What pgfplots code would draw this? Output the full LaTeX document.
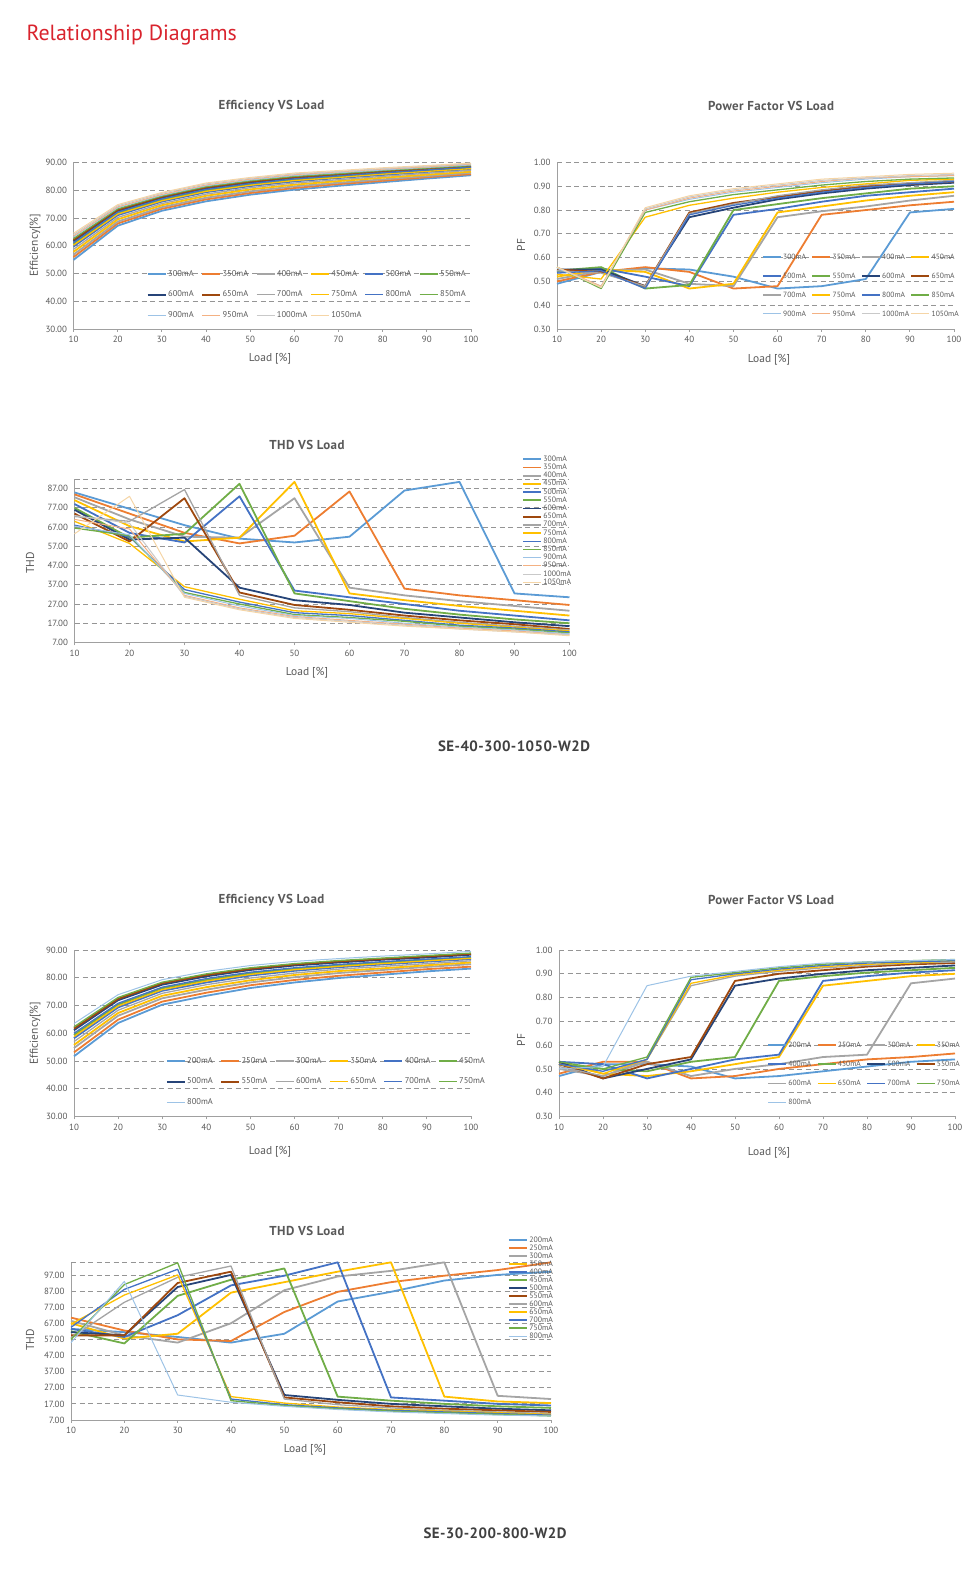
\documentclass[border=0pt]{standalone}
\usepackage{fontspec}
\setmainfont{PT Sans}
\newfontfamily\titlefont[LetterSpace=3]{PT Sans}
\usepackage{pgfplots}
\pgfplotsset{compat=1.18}

\definecolor{c1}{HTML}{5B9BD5}
\definecolor{c2}{HTML}{ED7D31}
\definecolor{c3}{HTML}{A5A5A5}
\definecolor{c4}{HTML}{FFC000}
\definecolor{c5}{HTML}{4472C4}
\definecolor{c6}{HTML}{70AD47}
\definecolor{c7}{HTML}{264478}
\definecolor{c8}{HTML}{9E480E}
\definecolor{c13}{HTML}{9DC3E6}
\definecolor{c14}{HTML}{F4B183}
\definecolor{c15}{HTML}{C9C9C9}
\definecolor{c16}{HTML}{F5D5A6}
\definecolor{axgray}{HTML}{A0A0A0}
\definecolor{gridgray}{HTML}{959595}
\definecolor{txtgray}{HTML}{595959}
\definecolor{titlered}{HTML}{D9232D}

\pgfplotsset{
  legend image code/.code={\draw[#1] (0bp,0bp) -- (18bp,0bp);},
  s1/.style={c1, line width=1.8bp},
  s2/.style={c2, line width=1.8bp},
  s3/.style={c3, line width=1.8bp},
  s4/.style={c4, line width=1.8bp},
  s5/.style={c5, line width=1.8bp},
  s6/.style={c6, line width=1.8bp},
  s7/.style={c7, line width=1.8bp},
  s8/.style={c8, line width=1.8bp},
  s9/.style={c3, line width=1.3bp},
  s10/.style={c4, line width=1.3bp},
  s11/.style={c5, line width=1.3bp},
  s12/.style={c6, line width=1.3bp},
  s13/.style={c13, line width=1bp},
  s14/.style={c14, line width=1bp},
  s15/.style={c15, line width=1bp},
  s16/.style={c16, line width=1bp},
  base/.style={
    scale only axis,
    axis x line=bottom, axis y line=left,
    axis line style={-, draw=axgray, line width=0.9bp},
    xmin=10, xmax=100,
    xtick={10,20,30,40,50,60,70,80,90,100},
    xticklabels={10,20,30,40,50,60,70,80,90,100},
    tick align=outside, major tick length=3bp,
    xtick style={draw=axgray, line width=0.8bp},
    ytick style={draw=none},
    ymajorgrids,
    major grid style={draw=gridgray, line width=0.8bp, dash pattern=on 5bp off 3.5bp},
    tick label style={font=\fontsize{9}{10}\selectfont, text=txtgray},
    xticklabel style={yshift=-1bp},
    clip=false, no markers,
    every axis plot/.append style={line join=round},
    legend cell align=left,
  },
  efflegend/.style={
    legend columns=6,
    legend style={draw=none, fill=none, inner sep=0pt, anchor=north west,
      column sep=0pt, row sep=12bp,
      /tikz/every even column/.append style={column sep=1.6bp},
      nodes={font=\fontsize{8.5}{9}\selectfont, text=txtgray, text width=30bp, align=left,
        inner xsep=1.5bp, inner ysep=0.5bp, text height=6bp, text depth=1.5bp}},
  },
  pflegend/.style={
    legend columns=4,
    legend style={draw=none, fill=none, inner sep=0pt, anchor=north west,
      column sep=0pt, row sep=10.5bp,
      /tikz/every even column/.append style={column sep=0.7bp},
      nodes={font=\fontsize{7.6}{8}\selectfont, text=txtgray, text width=26bp, align=left,
        inner xsep=1.5bp, inner ysep=0.5bp, text height=6bp, text depth=1.5bp}},
  },
  thdlegend/.style={
    legend columns=1,
    legend style={draw=none, fill=none, inner sep=0pt, anchor=north west,
      column sep=0pt, row sep=0bp,
      nodes={font=\fontsize{7.8}{8}\selectfont, text=txtgray,
        inner xsep=1.5bp, inner ysep=#1, text height=5.5bp, text depth=1.5bp}},
  },
  effaxis/.style={base, ymin=30, ymax=90,
    ytick={30,40,50,60,70,80,90},
    yticklabels={30.00,40.00,50.00,60.00,70.00,80.00,90.00}},
  pfaxis/.style={base, ymin=0.3, ymax=1.0,
    ytick={0.3,0.4,0.5,0.6,0.7,0.8,0.9,1.0},
    yticklabels={0.30,0.40,0.50,0.60,0.70,0.80,0.90,1.00}},
}
\newcommand{\ser}[3]{\addplot[#1] coordinates {#3}; \addlegendentry{#2}}
\newcommand{\ttl}{\titlefont\bfseries\fontsize{13}{14}\selectfont}
\newcommand{\lbl}{\fontsize{11.5}{12}\selectfont}
\newcommand{\model}{\titlefont\bfseries\fontsize{15}{16}\selectfont}

\begin{document}
\begin{tikzpicture}
\path[use as bounding box] (0bp,0bp) rectangle (968bp,1572bp);

\node[anchor=west, text=titlered, font=\fontsize{22}{24}\selectfont] at (23bp,1537bp) {Relationship Diagrams};

% ---------------- SET 1 ----------------
\node[text=txtgray, font=\ttl] at (271.5bp,1466bp) {Efficiency VS Load};
\node[text=txtgray, font=\ttl] at (771bp,1466bp) {Power Factor VS Load};
\node[text=txtgray, font=\ttl] at (307bp,1127bp) {THD VS Load};
\node[text=black!75, font=\model] at (514bp,826bp) {SE-40-300-1050-W2D};

\node[rotate=90, text=txtgray, font=\lbl] at (35bp,1327bp) {Efficiency[\%]};
\node[text=txtgray, font=\lbl] at (270bp,1213bp) {Load [\%]};
\node[rotate=90, text=txtgray, font=\lbl] at (521bp,1327bp) {PF};
\node[text=txtgray, font=\lbl] at (769bp,1212bp) {Load [\%]};
\node[rotate=90, text=txtgray, font=\lbl] at (30bp,1009bp) {THD};
\node[text=txtgray, font=\lbl] at (307bp,899bp) {Load [\%]};

\begin{axis}[effaxis, efflegend, at={(73.5bp,1243bp)}, anchor=south west,
  width=397.5bp, height=166.5bp, legend style={at={(0.184,0.356)}}]
\ser{s1}{300mA}{(10,54.9)(20,67.2)(30,72.6)(40,76.0)(50,78.4)(60,80.2)(70,81.6)(80,82.9)(90,84.2)(100,85.4)}
\ser{s2}{350mA}{(10,55.9)(20,68.0)(30,73.3)(40,76.7)(50,79.0)(60,80.8)(70,82.2)(80,83.4)(90,84.7)(100,85.8)}
\ser{s3}{400mA}{(10,56.8)(20,68.7)(30,73.9)(40,77.3)(50,79.6)(60,81.4)(70,82.7)(80,83.9)(90,85.1)(100,86.3)}
\ser{s4}{450mA}{(10,57.8)(20,69.5)(30,74.6)(40,78.0)(50,80.3)(60,82.0)(70,83.3)(80,84.5)(90,85.6)(100,86.7)}
\ser{s5}{500mA}{(10,59.7)(20,71.0)(30,75.9)(40,79.3)(50,81.5)(60,83.2)(70,84.4)(80,85.5)(90,86.6)(100,87.6)}
\ser{s6}{550mA}{(10,60.7)(20,71.8)(30,76.6)(40,80.0)(50,82.1)(60,83.8)(70,84.9)(80,86.0)(90,87.0)(100,88.0)}
\ser{s7}{600mA}{(10,61.6)(20,72.5)(30,77.2)(40,80.6)(50,82.7)(60,84.4)(70,85.5)(80,86.5)(90,87.5)(100,88.5)}
\ser{s8}{650mA}{(10,62.1)(20,72.9)(30,77.6)(40,81.0)(50,83.1)(60,84.7)(70,85.7)(80,86.8)(90,87.7)(100,88.7)}
\ser{s9}{700mA}{(10,58.7)(20,70.2)(30,75.2)(40,78.6)(50,80.9)(60,82.6)(70,83.8)(80,85.0)(90,86.1)(100,87.2)}
\ser{s10}{750mA}{(10,60.2)(20,71.4)(30,76.2)(40,79.6)(50,81.8)(60,83.5)(70,84.6)(80,85.8)(90,86.8)(100,87.8)}
\ser{s11}{800mA}{(10,61.1)(20,72.1)(30,76.9)(40,80.3)(50,82.4)(60,84.1)(70,85.2)(80,86.3)(90,87.3)(100,88.3)}
\ser{s12}{850mA}{(10,62.6)(20,73.3)(30,77.9)(40,81.3)(50,83.4)(60,85.0)(70,86.0)(80,87.1)(90,88.0)(100,88.9)}
\ser{s13}{900mA}{(10,63.1)(20,73.7)(30,78.2)(40,81.6)(50,83.7)(60,85.3)(70,86.3)(80,87.3)(90,88.2)(100,89.1)}
\ser{s14}{950mA}{(10,63.5)(20,74.0)(30,78.5)(40,81.9)(50,84.0)(60,85.6)(70,86.6)(80,87.6)(90,88.4)(100,89.4)}
\ser{s15}{1000mA}{(10,64.0)(20,74.4)(30,78.9)(40,82.3)(50,84.3)(60,85.9)(70,86.8)(80,87.8)(90,88.7)(100,89.6)}
\ser{s16}{1050mA}{(10,64.5)(20,74.8)(30,79.2)(40,82.6)(50,84.6)(60,86.2)(70,87.1)(80,88.1)(90,88.9)(100,89.8)}
\end{axis}

\begin{axis}[pfaxis, pflegend, at={(557bp,1243bp)}, anchor=south west,
  width=397bp, height=166.5bp, legend style={at={(0.5156,0.4598)}}]
\ser{s1}{300mA}{(10,0.49)(20,0.54)(30,0.555)(40,0.55)(50,0.52)(60,0.47)(70,0.48)(80,0.51)(90,0.79)(100,0.805)}
\ser{s2}{350mA}{(10,0.50)(20,0.54)(30,0.56)(40,0.54)(50,0.47)(60,0.48)(70,0.78)(80,0.80)(90,0.82)(100,0.835)}
\ser{s3}{400mA}{(10,0.51)(20,0.545)(30,0.55)(40,0.49)(50,0.48)(60,0.77)(70,0.795)(80,0.815)(90,0.84)(100,0.86)}
\ser{s4}{450mA}{(10,0.52)(20,0.55)(30,0.54)(40,0.47)(50,0.49)(60,0.79)(70,0.815)(80,0.84)(90,0.86)(100,0.875)}
\ser{s5}{500mA}{(10,0.54)(20,0.555)(30,0.52)(40,0.48)(50,0.78)(60,0.805)(70,0.835)(80,0.86)(90,0.875)(100,0.89)}
\ser{s6}{550mA}{(10,0.545)(20,0.56)(30,0.47)(40,0.485)(50,0.80)(60,0.825)(70,0.85)(80,0.87)(90,0.89)(100,0.90)}
\ser{s7}{600mA}{(10,0.55)(20,0.55)(30,0.48)(40,0.77)(50,0.81)(60,0.845)(70,0.87)(80,0.89)(90,0.905)(100,0.915)}
\ser{s8}{650mA}{(10,0.55)(20,0.54)(30,0.48)(40,0.79)(50,0.83)(60,0.855)(70,0.88)(80,0.90)(90,0.91)(100,0.92)}
\ser{s9}{700mA}{(10,0.545)(20,0.535)(30,0.48)(40,0.785)(50,0.825)(60,0.86)(70,0.885)(80,0.905)(90,0.915)(100,0.925)}
\ser{s10}{750mA}{(10,0.53)(20,0.51)(30,0.77)(40,0.82)(50,0.85)(60,0.875)(70,0.895)(80,0.91)(90,0.925)(100,0.93)}
\ser{s11}{800mA}{(10,0.535)(20,0.545)(30,0.47)(40,0.78)(50,0.82)(60,0.85)(70,0.875)(80,0.895)(90,0.91)(100,0.92)}
\ser{s12}{850mA}{(10,0.56)(20,0.47)(30,0.79)(40,0.835)(50,0.865)(60,0.885)(70,0.905)(80,0.92)(90,0.93)(100,0.935)}
\ser{s13}{900mA}{(10,0.555)(20,0.48)(30,0.80)(40,0.845)(50,0.875)(60,0.895)(70,0.915)(80,0.93)(90,0.94)(100,0.945)}
\ser{s14}{950mA}{(10,0.56)(20,0.48)(30,0.80)(40,0.85)(50,0.88)(60,0.90)(70,0.92)(80,0.935)(90,0.94)(100,0.945)}
\ser{s15}{1000mA}{(10,0.56)(20,0.475)(30,0.805)(40,0.855)(50,0.885)(60,0.905)(70,0.925)(80,0.935)(90,0.945)(100,0.95)}
\ser{s16}{1050mA}{(10,0.56)(20,0.475)(30,0.81)(40,0.86)(50,0.89)(60,0.91)(70,0.93)(80,0.94)(90,0.95)(100,0.955)}
\end{axis}

\begin{axis}[base, thdlegend=0.6bp, at={(74.5bp,929.5bp)}, anchor=south west,
  width=495bp, height=163.5bp, ymin=7, ymax=92,
  ytick={7,17,27,37,47,57,67,77,87},
  yticklabels={7.00,17.00,27.00,37.00,47.00,57.00,67.00,77.00,87.00},
  extra y ticks={92}, extra y tick labels={}, extra y tick style={grid=major},
  legend style={at={(0.904,1.147)}}]
\ser{s1}{300mA}{(10,85)(20,76.5)(30,68)(40,61)(50,59)(60,62)(70,86)(80,90.5)(90,32.5)(100,30.5)}
\ser{s2}{350mA}{(10,84)(20,74)(30,64)(40,58.5)(50,62.5)(60,85.5)(70,35)(80,31.5)(90,29)(100,26.5)}
\ser{s3}{400mA}{(10,82.5)(20,71)(30,62)(40,61.5)(50,82)(60,35.5)(70,31.5)(80,28.5)(90,26)(100,23.5)}
\ser{s4}{450mA}{(10,81)(20,67.5)(30,59.5)(40,61.5)(50,90.5)(60,32.5)(70,29)(80,26)(90,23.5)(100,21)}
\ser{s5}{500mA}{(10,79)(20,64)(30,59)(40,83)(50,34)(60,30.5)(70,27)(80,23.5)(90,21)(100,18.5)}
\ser{s6}{550mA}{(10,77)(20,61.5)(30,63.5)(40,89.5)(50,32.5)(60,28.5)(70,24.5)(80,21.5)(90,19)(100,17)}
\ser{s7}{600mA}{(10,76)(20,60.5)(30,61.5)(40,35.5)(50,29)(60,26.5)(70,22.5)(80,20)(90,17.5)(100,15.5)}
\ser{s8}{650mA}{(10,74)(20,59.5)(30,82)(40,33)(50,26.5)(60,24)(70,21)(80,18.5)(90,16.5)(100,14)}
\ser{s9}{700mA}{(10,72.5)(20,70)(30,86.5)(40,31.5)(50,25)(60,23)(70,20)(80,17.5)(90,15.5)(100,13.5)}
\ser{s10}{750mA}{(10,70)(20,58.5)(30,36)(40,29.5)(50,23.5)(60,22)(70,19.5)(80,17)(90,15)(100,13)}
\ser{s11}{800mA}{(10,68)(20,62)(30,34.5)(40,28)(50,22.5)(60,21)(70,18.5)(80,16)(90,14.5)(100,12.5)}
\ser{s12}{850mA}{(10,66.5)(20,62.5)(30,33)(40,27)(50,21.5)(60,20)(70,18)(80,15.5)(90,14)(100,12)}
\ser{s13}{900mA}{(10,67.5)(20,63)(30,32.5)(40,26)(50,21)(60,19.5)(70,17)(80,15)(90,13.5)(100,11.5)}
\ser{s14}{950mA}{(10,71)(20,66)(30,31.5)(40,25)(50,20.5)(60,18.5)(70,16.5)(80,14.5)(90,13)(100,11)}
\ser{s15}{1000mA}{(10,73)(20,69)(30,31)(40,24.5)(50,20)(60,18)(70,16)(80,14)(90,12.5)(100,11)}
\ser{s16}{1050mA}{(10,63.5)(20,83)(30,30.5)(40,24)(50,19.5)(60,17.5)(70,15.5)(80,14)(90,12.5)(100,10.5)}
\end{axis}

% ---------------- SET 2 ----------------
\node[text=txtgray, font=\ttl] at (271.5bp,672bp) {Efficiency VS Load};
\node[text=txtgray, font=\ttl] at (771bp,672bp) {Power Factor VS Load};
\node[text=txtgray, font=\ttl] at (307bp,341bp) {THD VS Load};
\node[text=black!75, font=\model] at (495bp,39bp) {SE-30-200-800-W2D};

\node[rotate=90, text=txtgray, font=\lbl] at (35bp,539bp) {Efficiency[\%]};
\node[text=txtgray, font=\lbl] at (270bp,420bp) {Load [\%]};
\node[rotate=90, text=txtgray, font=\lbl] at (521bp,532bp) {PF};
\node[text=txtgray, font=\lbl] at (769bp,419bp) {Load [\%]};
\node[rotate=90, text=txtgray, font=\lbl] at (30bp,232bp) {THD};
\node[text=txtgray, font=\lbl] at (305bp,122bp) {Load [\%]};

\begin{axis}[effaxis, efflegend, at={(74bp,455.5bp)}, anchor=south west,
  width=397bp, height=166.5bp, legend style={at={(0.231,0.359)}}]
\ser{s1}{200mA}{(10,51.7)(20,63.7)(30,70.3)(40,73.5)(50,76.3)(60,78.3)(70,79.9)(80,81.1)(90,82.3)(100,83.3)}
\ser{s2}{250mA}{(10,53.1)(20,64.9)(30,71.4)(40,74.6)(50,77.3)(60,79.2)(70,80.7)(80,81.9)(90,83.1)(100,84.0)}
\ser{s3}{300mA}{(10,54.7)(20,66.3)(30,72.6)(40,75.7)(50,78.3)(60,80.2)(70,81.7)(80,82.8)(90,83.9)(100,84.9)}
\ser{s4}{350mA}{(10,55.8)(20,67.3)(30,73.5)(40,76.6)(50,79.1)(60,81.0)(70,82.4)(80,83.4)(90,84.5)(100,85.5)}
\ser{s5}{400mA}{(10,58.2)(20,69.3)(30,75.3)(40,78.3)(50,80.8)(60,82.5)(70,83.8)(80,84.8)(90,85.8)(100,86.7)}
\ser{s6}{450mA}{(10,59.4)(20,70.3)(30,76.2)(40,79.2)(50,81.6)(60,83.2)(70,84.5)(80,85.5)(90,86.4)(100,87.3)}
\ser{s7}{500mA}{(10,61.1)(20,71.9)(30,77.5)(40,80.5)(50,82.8)(60,84.4)(70,85.5)(80,86.5)(90,87.3)(100,88.3)}
\ser{s8}{550mA}{(10,61.7)(20,72.4)(30,78.0)(40,81.0)(50,83.2)(60,84.8)(70,85.9)(80,86.8)(90,87.7)(100,88.6)}
\ser{s9}{600mA}{(10,57.0)(20,68.3)(30,74.4)(40,77.5)(50,79.9)(60,81.7)(70,83.1)(80,84.1)(90,85.1)(100,86.1)}
\ser{s10}{650mA}{(10,58.8)(20,69.8)(30,75.7)(40,78.8)(50,81.2)(60,82.9)(70,84.1)(80,85.1)(90,86.1)(100,87.0)}
\ser{s11}{700mA}{(10,60.0)(20,70.8)(30,76.6)(40,79.7)(50,82.0)(60,83.6)(70,84.8)(80,85.8)(90,86.7)(100,87.6)}
\ser{s12}{750mA}{(10,62.3)(20,72.9)(30,78.4)(40,81.4)(50,83.6)(60,85.1)(70,86.2)(80,87.1)(90,88.0)(100,88.9)}
\ser{s13}{800mA}{(10,63.5)(20,73.9)(30,79.3)(40,82.3)(50,84.4)(60,85.9)(70,86.9)(80,87.8)(90,88.6)(100,89.5)}
\end{axis}

\begin{axis}[pfaxis, pflegend, at={(559bp,455.5bp)}, anchor=south west,
  width=396bp, height=166.5bp, legend style={at={(0.525,0.455)}}]
\ser{s1}{200mA}{(10,0.47)(20,0.52)(30,0.52)(40,0.51)(50,0.46)(60,0.47)(70,0.49)(80,0.51)(90,0.53)(100,0.54)}
\ser{s2}{250mA}{(10,0.48)(20,0.53)(30,0.53)(40,0.46)(50,0.47)(60,0.50)(70,0.52)(80,0.54)(90,0.55)(100,0.565)}
\ser{s3}{300mA}{(10,0.50)(20,0.47)(30,0.53)(40,0.47)(50,0.50)(60,0.52)(70,0.55)(80,0.56)(90,0.86)(100,0.88)}
\ser{s4}{350mA}{(10,0.53)(20,0.48)(30,0.47)(40,0.49)(50,0.52)(60,0.55)(70,0.85)(80,0.87)(90,0.89)(100,0.90)}
\ser{s5}{400mA}{(10,0.53)(20,0.52)(30,0.46)(40,0.50)(50,0.54)(60,0.56)(70,0.87)(80,0.89)(90,0.905)(100,0.915)}
\ser{s6}{450mA}{(10,0.52)(20,0.50)(30,0.49)(40,0.53)(50,0.55)(60,0.87)(70,0.89)(80,0.905)(90,0.915)(100,0.925)}
\ser{s7}{500mA}{(10,0.53)(20,0.46)(30,0.50)(40,0.54)(50,0.85)(60,0.88)(70,0.90)(80,0.915)(90,0.925)(100,0.935)}
\ser{s8}{550mA}{(10,0.52)(20,0.46)(30,0.52)(40,0.55)(50,0.87)(60,0.90)(70,0.915)(80,0.93)(90,0.94)(100,0.945)}
\ser{s9}{600mA}{(10,0.51)(20,0.47)(30,0.54)(40,0.85)(50,0.89)(60,0.91)(70,0.925)(80,0.935)(90,0.945)(100,0.95)}
\ser{s10}{650mA}{(10,0.52)(20,0.48)(30,0.54)(40,0.86)(50,0.895)(60,0.915)(70,0.93)(80,0.94)(90,0.945)(100,0.955)}
\ser{s11}{700mA}{(10,0.52)(20,0.49)(30,0.54)(40,0.875)(50,0.90)(60,0.92)(70,0.935)(80,0.945)(90,0.95)(100,0.955)}
\ser{s12}{750mA}{(10,0.53)(20,0.50)(30,0.55)(40,0.885)(50,0.905)(60,0.925)(70,0.94)(80,0.95)(90,0.955)(100,0.96)}
\ser{s13}{800mA}{(10,0.50)(20,0.51)(30,0.85)(40,0.89)(50,0.91)(60,0.93)(70,0.945)(80,0.95)(90,0.955)(100,0.96)}
\end{axis}

\begin{axis}[base, thdlegend=0.5bp, at={(71bp,152bp)}, anchor=south west,
  width=480bp, height=158bp, ymin=7, ymax=105,
  ytick={7,17,27,37,47,57,67,77,87,97},
  yticklabels={7.00,17.00,27.00,37.00,47.00,57.00,67.00,77.00,87.00,97.00},
  extra y ticks={105}, extra y tick labels={}, extra y tick style={grid=major},
  legend style={at={(0.910,1.165)}}]
\ser{s1}{200mA}{(10,63.5)(20,61.5)(30,58.5)(40,55)(50,60.5)(60,80.5)(70,86.5)(80,93.5)(90,97)(100,99)}
\ser{s2}{250mA}{(10,70.5)(20,62.5)(30,57)(40,56)(50,74)(60,86.5)(70,92.5)(80,96.5)(90,100)(100,104.8)}
\ser{s3}{300mA}{(10,68.5)(20,59.5)(30,55)(40,67)(50,87.5)(60,96)(70,99.5)(80,104.8)(90,22)(100,20)}
\ser{s4}{350mA}{(10,67)(20,57.5)(30,60.5)(40,86)(50,92.5)(60,99)(70,104.8)(80,21.5)(90,18.5)(100,17.5)}
\ser{s5}{400mA}{(10,63.5)(20,58.5)(30,72)(40,90.5)(50,96.5)(60,104.8)(70,21)(80,19)(90,17)(100,16)}
\ser{s6}{450mA}{(10,62)(20,54.5)(30,84)(40,94)(50,101)(60,21.5)(70,19)(80,17)(90,15.5)(100,14.5)}
\ser{s7}{500mA}{(10,61.5)(20,59.5)(30,89.5)(40,97)(50,22.5)(60,19.5)(70,17)(80,15.5)(90,14)(100,13)}
\ser{s8}{550mA}{(10,59.5)(20,59.5)(30,92)(40,99)(50,21)(60,18)(70,15.5)(80,14)(90,13)(100,12)}
\ser{s9}{600mA}{(10,58)(20,80)(30,95.5)(40,102.5)(50,20)(60,16.5)(70,14.5)(80,13)(90,12)(100,11)}
\ser{s10}{650mA}{(10,66.5)(20,84.5)(30,97)(40,21.5)(50,17.5)(60,15)(70,13.5)(80,12.5)(90,11.5)(100,10.5)}
\ser{s11}{700mA}{(10,64.5)(20,88)(30,100.5)(40,20)(50,16.5)(60,14.5)(70,13)(80,12)(90,11)(100,10)}
\ser{s12}{750mA}{(10,57)(20,91)(30,104.5)(40,19)(50,16)(60,14)(70,12.5)(80,11.5)(90,10.5)(100,9.5)}
\ser{s13}{800mA}{(10,55)(20,93)(30,22.5)(40,18)(50,15.5)(60,13.5)(70,12)(80,11)(90,10)(100,9.5)}
\end{axis}

\end{tikzpicture}
\end{document}
